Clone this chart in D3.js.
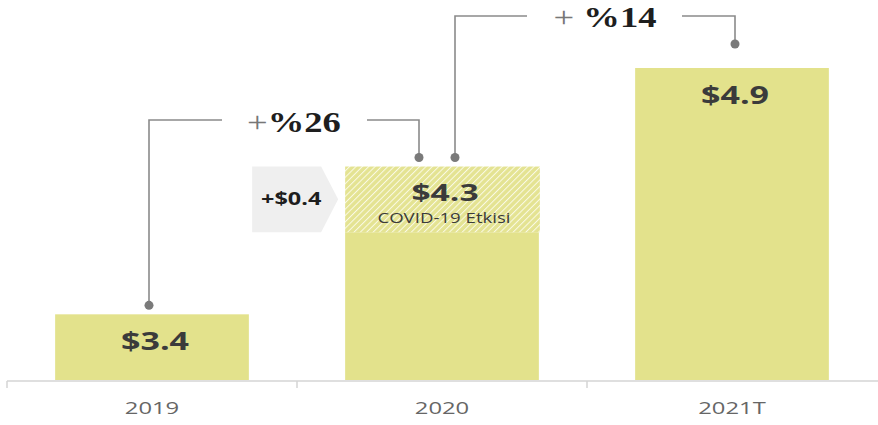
<!DOCTYPE html>
<html>
<head>
  <script src="https://d3js.org/d3.v7.min.js"></script>
  <style>
    body { margin: 0; background: #fff; }
    svg { display: block; }
  </style>
</head>
<body>
<div id="chart"></div>
<script>
  // chart data
  const years = ["2019", "2020", "2021T"];
  const values = [3.4, 4.3, 4.9];
  const covidImpact = [0, 0.4, 0];
  const valueLabels = ["$3.4", "$4.3", "$4.9"];
  const impactLabel = "+$0.4";
  const impactNote = "COVID-19 Etkisi";
  // growth brackets: from year -> to year
  const growth = [
    { from: "2019", to: "2020", plus: "+", text: "%26" },
    { from: "2020", to: "2021T", plus: "+ ", text: "%14" }
  ];

  const width = 878, height = 425;
  const barColor = "#e3e28c";
  const textColor = "#3b3b3b";
  const stretch = 1.36;   // the original text is drawn wide

  const svg = d3.select("#chart").append("svg")
    .attr("width", width)
    .attr("height", height);

  const x = d3.scaleBand().domain(years).range([7, 877]);
  const bw = x.bandwidth();
  const inset = bw * 0.166;
  const barW = bw - 2 * inset;

  // axis baseline is broken (starts at 3.0)
  const y = d3.scaleLinear().domain([3.0, 4.9]).range([380, 68]);

  // wide text helper
  function label(px, py, txt, size, weight, fill, sx) {
    return svg.append("text")
      .attr("transform", `translate(${px},${py}) scale(${sx || stretch},1)`)
      .attr("text-anchor", "middle")
      .attr("font-family", "Open Sans")
      .attr("font-weight", weight)
      .attr("font-size", size)
      .attr("fill", fill)
      .text(txt);
  }

  // hatch pattern for covid part
  const defs = svg.append("defs");
  const pat = defs.append("pattern")
    .attr("id", "hatch")
    .attr("patternUnits", "userSpaceOnUse")
    .attr("width", 4.5)
    .attr("height", 4.5)
    .attr("patternTransform", "rotate(45)");
  pat.append("rect").attr("width", 4.5).attr("height", 4.5).attr("fill", "#e4e392");
  pat.append("line")
    .attr("x1", 0).attr("y1", 0).attr("x2", 0).attr("y2", 4.5)
    .attr("stroke", "#fafae6").attr("stroke-width", 2);

  const data = years.map((d, i) => ({ year: d, value: values[i], impact: covidImpact[i], label: valueLabels[i] }));

  // axis line and ticks
  svg.append("line")
    .attr("x1", 7).attr("x2", width)
    .attr("y1", 381).attr("y2", 381)
    .attr("stroke", "#d4d4d4").attr("stroke-width", 1.5);
  svg.selectAll(".tick")
    .data(years)
    .join("line")
    .attr("x1", d => x(d)).attr("x2", d => x(d))
    .attr("y1", 381).attr("y2", 388)
    .attr("stroke", "#d4d4d4").attr("stroke-width", 1.5);

  years.forEach(d => label(x(d) + bw / 2, 414, d, 17, "normal", "#666", 1.4));

  // solid bars
  svg.selectAll(".bar")
    .data(data)
    .join("rect")
    .attr("x", d => x(d.year) + inset)
    .attr("width", barW)
    .attr("y", d => y(d.value - d.impact))
    .attr("height", d => y(3.0) - y(d.value - d.impact))
    .attr("fill", barColor);

  // covid impact (hatched)
  const withImpact = data.filter(d => d.impact > 0);
  svg.selectAll(".impact")
    .data(withImpact)
    .join("rect")
    .attr("x", d => x(d.year) + inset)
    .attr("width", barW + 1)
    .attr("y", d => y(d.value))
    .attr("height", d => y(d.value - d.impact) - y(d.value))
    .attr("fill", "url(#hatch)");

  // grey chevron with +$0.4
  withImpact.forEach(d => {
    const top = y(d.value), bot = y(d.value - d.impact);
    const right = x(d.year) + inset - 7;
    const left = right - 86;
    const mid = (top + bot) / 2;
    svg.append("path")
      .attr("d", `M${left},${top}H${right - 17}L${right},${mid}L${right - 17},${bot}H${left}Z`)
      .attr("fill", "#efefef");
    label(left + 39, mid + 6, impactLabel, 17, "bold", "#1e1e1e", 1.38);
    label(x(d.year) + bw / 2 + 2, bot - 9.5, impactNote, 14, "normal", textColor, 1.33);
  });

  // value labels
  data.forEach(d => {
    const inImpact = d.impact > 0;
    label(x(d.year) + bw / 2 + 3, y(d.value) + (inImpact ? 34 : 36), d.label, inImpact ? 24 : 25, "bold", textColor, inImpact ? 1.4 : 1.36);
  });

  // growth brackets
  const lineColor = "#8a8a8a";
  const bracketSpec = [
    { x1: x("2019") + bw / 2 - 3, y1: y(3.4) - 9, x2: x("2020") + bw / 2 - 23, y2: y(4.3) - 9, yTop: 120, gapL: 222, gapR: 367, tx: 294, ty: 132 },
    { x1: x("2020") + bw / 2 + 13, y1: y(4.3) - 9, x2: x("2021T") + bw / 2 + 3, y2: y(4.9) - 24, yTop: 16, gapL: 527, gapR: 682, tx: 605, ty: 27 }
  ];
  growth.forEach((g, i) => {
    const b = bracketSpec[i];
    svg.append("path")
      .attr("d", `M${b.x1},${b.y1}V${b.yTop}H${b.gapL}`)
      .attr("fill", "none").attr("stroke", lineColor).attr("stroke-width", 1.6);
    svg.append("path")
      .attr("d", `M${b.gapR},${b.yTop}H${b.x2}V${b.y2}`)
      .attr("fill", "none").attr("stroke", lineColor).attr("stroke-width", 1.6);
    svg.append("circle").attr("cx", b.x1).attr("cy", b.y1).attr("r", 4.5).attr("fill", "#7a7a7a");
    svg.append("circle").attr("cx", b.x2).attr("cy", b.y2).attr("r", 4.5).attr("fill", "#7a7a7a");
    const t = svg.append("text")
      .attr("transform", `translate(${b.tx},${b.ty}) scale(1.22,1)`)
      .attr("text-anchor", "middle")
      .attr("font-family", "Liberation Serif")
      .attr("font-size", 30);
    t.append("tspan").attr("fill", "#777").attr("font-weight", "normal").text(g.plus);
    t.append("tspan").attr("fill", "#1e1e1e").attr("font-weight", "bold").text(g.text);
  });
</script>
</body>
</html>
